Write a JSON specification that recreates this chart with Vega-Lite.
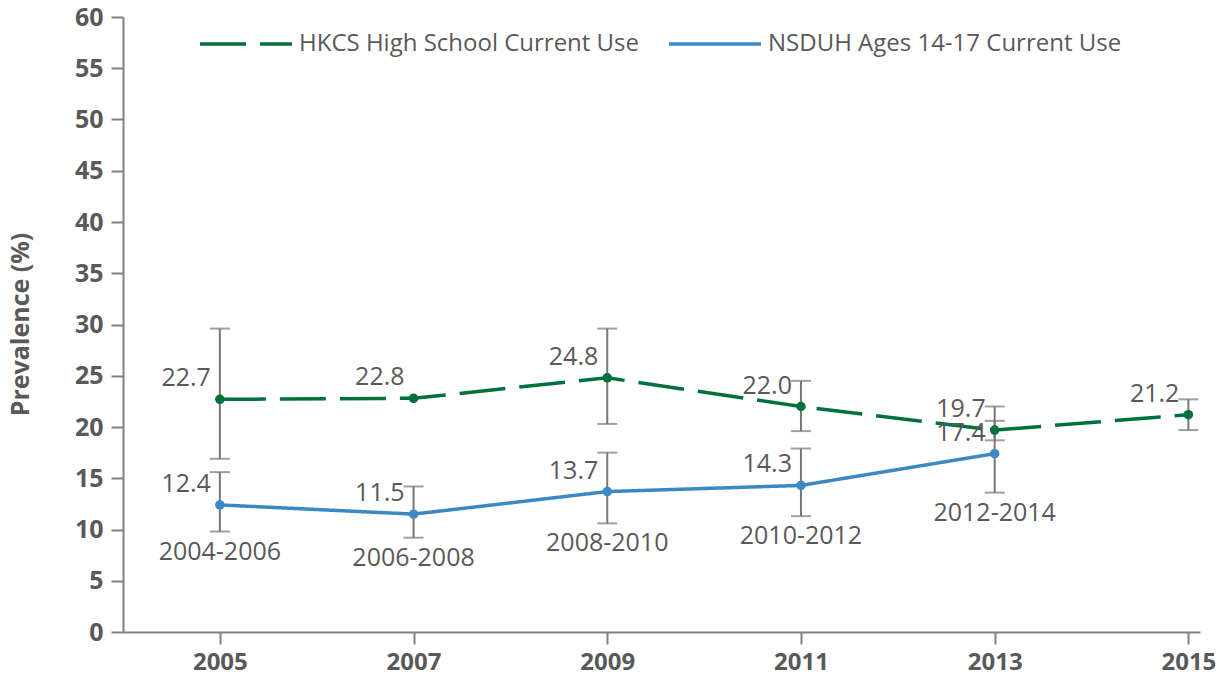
{
  "$schema": "https://vega.github.io/schema/vega-lite/v6.json",
  "width": 1077,
  "height": 615,
  "autosize": {"type": "none"},
  "padding": {"left": 123, "top": 17, "right": 29, "bottom": 53},
  "background": "white",
  "data": {
    "values": [
      {"series": "HKCS High School Current Use", "year": 2005, "value": 22.7, "lo": 16.9, "hi": 29.6, "period": null},
      {"series": "HKCS High School Current Use", "year": 2007, "value": 22.8, "lo": null, "hi": null, "period": null},
      {"series": "HKCS High School Current Use", "year": 2009, "value": 24.8, "lo": 20.3, "hi": 29.6, "period": null},
      {"series": "HKCS High School Current Use", "year": 2011, "value": 22.0, "lo": 19.6, "hi": 24.5, "period": null},
      {"series": "HKCS High School Current Use", "year": 2013, "value": 19.7, "lo": 18.7, "hi": 22.0, "period": null},
      {"series": "HKCS High School Current Use", "year": 2015, "value": 21.2, "lo": 19.7, "hi": 22.7, "period": null},
      {"series": "NSDUH Ages 14-17 Current Use", "year": 2005, "value": 12.4, "lo": 9.8, "hi": 15.6, "period": "2004-2006"},
      {"series": "NSDUH Ages 14-17 Current Use", "year": 2007, "value": 11.5, "lo": 9.2, "hi": 14.2, "period": "2006-2008"},
      {"series": "NSDUH Ages 14-17 Current Use", "year": 2009, "value": 13.7, "lo": 10.6, "hi": 17.5, "period": "2008-2010"},
      {"series": "NSDUH Ages 14-17 Current Use", "year": 2011, "value": 14.3, "lo": 11.3, "hi": 17.9, "period": "2010-2012"},
      {"series": "NSDUH Ages 14-17 Current Use", "year": 2013, "value": 17.4, "lo": 13.6, "hi": 20.6, "period": "2012-2014"}
    ]
  },
  "encoding": {
    "x": {
      "field": "year", "type": "quantitative",
      "scale": {"domain": [2004, 2015.12], "nice": false, "zero": false},
      "axis": {
        "title": null, "values": [2005, 2007, 2009, 2011, 2013, 2015], "format": "d",
        "grid": false, "tickSize": 12, "labelPadding": 6,
        "labelFontWeight": "bold", "labelFontSize": 24
      }
    }
  },
  "layer": [
    {
      "transform": [{"filter": "datum.lo != null"}],
      "mark": {"type": "rule", "color": "#777777", "strokeWidth": 2},
      "encoding": {
        "y": {"field": "lo", "type": "quantitative"},
        "y2": {"field": "hi"}
      }
    },
    {
      "transform": [{"filter": "datum.lo != null"}],
      "mark": {"type": "tick", "orient": "horizontal", "color": "#777777", "size": 20, "thickness": 2},
      "encoding": {"y": {"field": "lo", "type": "quantitative"}}
    },
    {
      "transform": [{"filter": "datum.hi != null"}],
      "mark": {"type": "tick", "orient": "horizontal", "color": "#777777", "size": 20, "thickness": 2},
      "encoding": {"y": {"field": "hi", "type": "quantitative"}}
    },
    {
      "mark": {"type": "line", "strokeWidth": 3.5},
      "encoding": {
        "y": {
          "field": "value", "type": "quantitative",
          "scale": {"domain": [0, 60], "nice": false},
          "axis": {
            "title": "Prevalence (%)", "values": [0, 5, 10, 15, 20, 25, 30, 35, 40, 45, 50, 55, 60],
            "grid": false, "tickSize": 12, "labelPadding": 8,
            "labelFontWeight": "bold", "labelFontSize": 25,
            "titleFontWeight": "bold", "titleFontSize": 25,
            "titleX": -103, "titleY": 307, "titleAngle": -90,
            "titleAlign": "center", "titleBaseline": "middle"
          }
        },
        "color": {
          "field": "series", "type": "nominal",
          "scale": {"domain": ["HKCS High School Current Use", "NSDUH Ages 14-17 Current Use"], "range": ["#00703c", "#3a88c4"]},
          "legend": {
            "title": null, "orient": "none", "legendX": 75, "legendY": -21,
            "direction": "horizontal", "symbolType": "stroke", "symbolSize": 8464,
            "symbolStrokeWidth": 3.5, "labelFontSize": 24, "labelColor": "#595959",
            "labelOffset": 5, "columnPadding": 22, "labelLimit": 500
          }
        },
        "strokeDash": {
          "field": "series", "type": "nominal",
          "scale": {"domain": ["HKCS High School Current Use", "NSDUH Ages 14-17 Current Use"], "range": [[46, 14], [1, 0]]},
          "legend": {
            "title": null, "orient": "none", "legendX": 75, "legendY": -21,
            "direction": "horizontal", "symbolType": "stroke", "symbolSize": 8464,
            "symbolStrokeWidth": 3.5, "labelFontSize": 24, "labelColor": "#595959",
            "labelOffset": 5, "columnPadding": 22, "labelLimit": 500
          }
        }
      }
    },
    {
      "mark": {"type": "point", "filled": true, "opacity": 1, "size": 90},
      "encoding": {
        "y": {"field": "value", "type": "quantitative"},
        "color": {"field": "series", "type": "nominal", "legend": null}
      }
    },
    {
      "mark": {"type": "text", "align": "right", "baseline": "middle", "dx": -9, "dy": -21, "fontSize": 25, "color": "#595959"},
      "encoding": {
        "y": {"field": "value", "type": "quantitative"},
        "text": {"field": "value", "type": "quantitative", "format": ".1f"}
      }
    },
    {
      "transform": [{"filter": "datum.period != null"}],
      "mark": {"type": "text", "align": "center", "baseline": "middle", "dy": 20, "fontSize": 25, "color": "#595959"},
      "encoding": {
        "y": {"field": "lo", "type": "quantitative"},
        "text": {"field": "period", "type": "nominal"}
      }
    }
  ],
  "config": {
    "font": "Open Sans",
    "view": {"stroke": null},
    "axis": {
      "domainColor": "#808080", "domainWidth": 2, "tickColor": "#808080", "tickWidth": 2,
      "labelColor": "#595959", "titleColor": "#595959", "labelFont": "Open Sans", "titleFont": "Open Sans"
    },
    "legend": {"labelFont": "Open Sans"},
    "text": {"font": "Open Sans"}
  }
}
